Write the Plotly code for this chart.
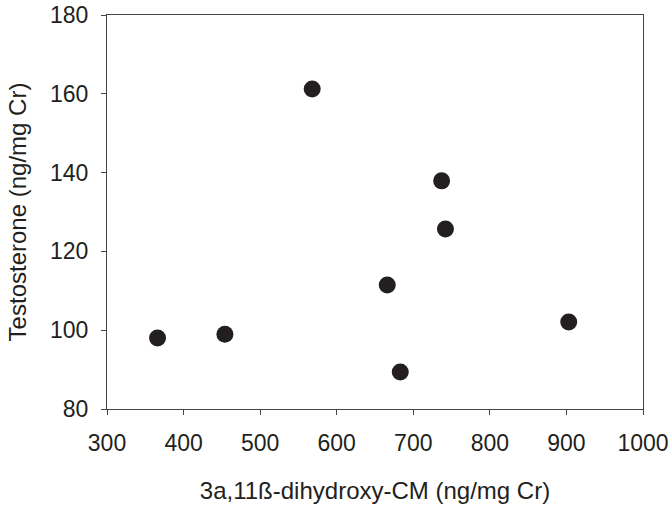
import plotly.graph_objects as go

x_vals = [366, 454, 568, 666, 683, 737, 742, 903]
y_vals = [98.0, 99.0, 161.2, 111.5, 89.4, 137.9, 125.7, 102.1]

x_ticks = [300, 400, 500, 600, 700, 800, 900, 1000]
y_ticks = [80, 100, 120, 140, 160, 180]

fig = go.Figure()
fig.add_trace(go.Scatter(
    x=x_vals, y=y_vals, mode="markers",
    marker=dict(size=17, color="#231f20", line=dict(width=0)),
    showlegend=False,
))

font = "Liberation Sans, Arial, sans-serif"
fig.update_layout(
    width=671, height=508,
    margin=dict(l=107, r=28, t=15, b=99, autoexpand=False),
    paper_bgcolor="white", plot_bgcolor="white",
    font=dict(family=font, size=23, color="#231f20"),
)
fig.update_xaxes(
    range=[300, 1000], tickvals=x_ticks, ticktext=[str(v) for v in x_ticks],
    showgrid=False, zeroline=False, automargin=False,
    showline=True, linecolor="#444", linewidth=1.3, mirror=True,
    ticks="outside", ticklen=5, tickcolor="#444", tickwidth=1,
    tickfont=dict(size=23), ticklabelstandoff=8,
    title=dict(text="3a,11ß-dihydroxy-CM (ng/mg Cr)", font=dict(size=24), standoff=27),
)
fig.update_yaxes(
    range=[80, 180], tickvals=y_ticks, ticktext=[str(v) for v in y_ticks],
    showgrid=False, zeroline=False, automargin=False,
    showline=True, linecolor="#444", linewidth=1.3, mirror=True,
    ticks="outside", ticklen=5, tickcolor="#444", tickwidth=1,
    tickfont=dict(size=23), ticklabelstandoff=8,
    title=dict(text="Testosterone (ng/mg Cr)", font=dict(size=24), standoff=16),
)
fig.write_html("out.html")
